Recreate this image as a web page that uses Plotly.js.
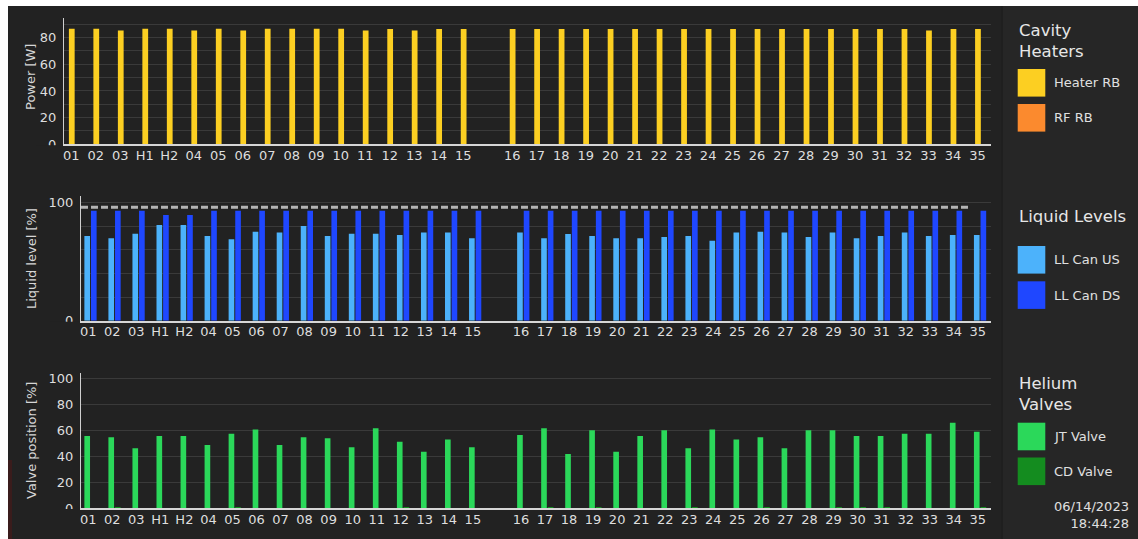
<!DOCTYPE html>
<html>
<head>
<meta charset="utf-8">
<script src="https://cdn.plot.ly/plotly-3.0.1.min.js"></script>
<style>
  html, body { margin: 0; padding: 0; background: #222222; }
  #chart { width: 1138px; height: 539px; }
</style>
</head>
<body>
<div id="chart"></div>
<script>
// ---------------- DATA ----------------
const CAVITIES = ['01','02','03','H1','H2','04','05','06','07','08','09','10','11','12','13','14','15',
                  '16','17','18','19','20','21','22','23','24','25','26','27','28','29','30','31','32','33','34','35'];
const GAP_AFTER = '15';

// Cavity heaters [W]
const HEATER_RB = [86.6,86.6,85.3,86.6,86.6,85.3,86.6,85.3,86.6,86.6,86.6,86.6,85.3,86.4,85.3,86.4,86.4,
                   86.4,86.4,86.4,86.4,86.4,86.4,86.4,86.4,86.4,86.4,86.4,86.4,86.4,86.4,86.4,86.4,86.4,85.3,86.4,86.4];
const RF_RB     = [0,0,0,0,0,0,0,0,0,0,0,0,0,0,0,0,0,
                   0,0,0,0,0,0,0,0,0,0,0,0,0,0,0,0,0,0,0,0];

// Liquid levels [%]
const LL_CAN_US = [71.8,69.8,73.7,81.1,81.1,71.8,69.0,75.4,74.6,80.3,71.8,73.7,73.7,72.6,74.6,74.6,69.8,
                   74.6,69.8,73.4,71.8,69.8,69.8,70.8,71.8,67.8,74.6,75.4,74.6,70.8,74.6,69.8,71.8,74.6,71.8,72.6,72.6];
const LL_CAN_DS = [93.2,93.2,93.2,89.6,89.6,93.2,93.2,93.2,93.2,93.2,93.2,93.2,93.2,93.2,93.2,93.2,93.2,
                   93.2,93.2,93.2,93.2,93.2,93.2,93.2,93.2,93.2,93.2,93.2,93.2,93.2,93.2,93.2,93.2,93.2,93.2,93.2,93.2];
const LL_LIMIT = 96;

// Helium valves [%]
const JT_VALVE = [55.6,54.6,46.1,55.6,55.6,48.6,57.4,60.7,48.6,54.6,53.8,46.9,61.5,51.2,43.5,53.0,46.9,
                  56.4,61.5,41.7,60.0,43.5,55.6,60.0,46.1,60.7,53.0,54.6,46.1,60.0,60.0,55.6,55.6,57.4,57.4,65.9,58.9];
const CD_VALVE = [0,0.8,0,0,0,0,0.8,0,0,0,0,0,0,0.8,0,0,0,
                  0,0.8,0,0.8,0,0,0,0.8,0,0,0.8,0,0,0.8,0.8,0.8,0,0,0,0.8];

// Axis ticks
const P1_TICKVALS = [0,10,20,30,40,50,60,70,80,90];
const P1_TICKTEXT = ['0','','20','','40','','60','','80',''];
const P2_TICKVALS = [0,20,40,60,80,100];
const P2_TICKTEXT = ['0','','','','','100'];
const P3_TICKVALS = [0,20,40,60,80,100];
const P3_TICKTEXT = ['0','20','40','60','80','100'];

const TIMESTAMP = ['06/14/2023', '18:44:28'];

// ---------------- STYLE ----------------
const W = 1138, H = 539;
const px = x => x / W;
const py = y => 1 - y / H;
const FONT = 'DejaVu Sans, Verdana, sans-serif';
const BG = '#222222';
const GRID = '#3a3a3a';
const TXT = '#dedede';

const COLORS = {
  heater: '#fccf22', rf: '#fb8a2e',
  us: '#4cb2fb', ds: '#1f47ff',
  jt: '#2bd85a', cd: '#148c1f'
};

// positions on a linear axis, with one empty slot after GAP_AFTER
const POS = [];
(function(){ let shift = 0; CAVITIES.forEach((c, i) => { POS.push(i + shift); if (c === GAP_AFTER) shift = 1; }); })();

const BW = 0.235;
function bar(name, y, color, xa, ya, offset) {
  return { type: 'bar', name: name, x: POS, y: y, xaxis: xa, yaxis: ya,
           width: BW, offset: offset, marker: { color: color, line: { width: 0 } },
           hoverinfo: 'skip', showlegend: false };
}

const data = [
  bar('Heater RB', HEATER_RB, COLORS.heater, 'x', 'y', -0.10),
  bar('RF RB', RF_RB, COLORS.rf, 'x', 'y', 0.14),
  bar('LL Can US', LL_CAN_US, COLORS.us, 'x2', 'y2', -0.16),
  bar('LL Can DS', LL_CAN_DS, COLORS.ds, 'x2', 'y2', 0.115),
  bar('JT Valve', JT_VALVE, COLORS.jt, 'x3', 'y3', -0.16),
  bar('CD Valve', CD_VALVE, COLORS.cd, 'x3', 'y3', 0.115)
];

const XR = [-0.3, 37.55];
function xaxis(domL, anchor) {
  return { domain: [px(domL), px(991)], anchor: anchor, range: XR, tickmode: 'array',
           tickvals: POS, ticktext: CAVITIES, showgrid: false, zeroline: false,
           showline: true, linecolor: '#d6d6d6', linewidth: 2, ticks: '',
           ticklabelstandoff: -2,
           tickfont: { family: FONT, size: 13, color: TXT }, fixedrange: true };
}
function yaxis(top, bottom, range, tv, tt, anchor) {
  return { domain: [py(bottom), py(top)], anchor: anchor, range: range, tickmode: 'array',
           tickvals: tv, ticktext: tt, showgrid: true, gridcolor: GRID, gridwidth: 1,
           zeroline: false, showline: true, linecolor: '#cfcfcf', linewidth: 1, ticks: '',
           ticklabelstandoff: 4,
           tickfont: { family: FONT, size: 13, color: TXT }, fixedrange: true };
}

const shapes = [
  // screenshot frame / legend column
  { type: 'rect', xref: 'paper', yref: 'paper', layer: 'below', x0: 0, x1: 1, y0: py(6), y1: 1, fillcolor: '#ffffff', line: { width: 0 } },
  { type: 'rect', xref: 'paper', yref: 'paper', layer: 'below', x0: 0, x1: px(8), y0: 0, y1: 1, fillcolor: '#ffffff', line: { width: 0 } },
  { type: 'rect', xref: 'paper', yref: 'paper', layer: 'below', x0: px(8), x1: px(12), y0: 0, y1: py(460), fillcolor: '#3a1c1c', line: { width: 0 } },
  { type: 'rect', xref: 'paper', yref: 'paper', layer: 'below', x0: px(1003), x1: 1, y0: 0, y1: py(6), fillcolor: '#262626', line: { width: 0 } },
  { type: 'rect', xref: 'paper', yref: 'paper', layer: 'below', x0: px(1001), x1: px(1003), y0: 0, y1: py(6), fillcolor: '#1f1f1f', line: { width: 0 } },
  // masks over the lower half of the "0" tick labels
  { type: 'rect', xref: 'paper', yref: 'paper', layer: 'above', x0: px(36), x1: px(62.5), y0: py(151), y1: py(145.2), fillcolor: BG, line: { width: 0 } },
  { type: 'rect', xref: 'paper', yref: 'paper', layer: 'above', x0: px(50), x1: px(79.5), y0: py(328), y1: py(321.7), fillcolor: BG, line: { width: 0 } },
  { type: 'rect', xref: 'paper', yref: 'paper', layer: 'above', x0: px(50), x1: px(79.5), y0: py(515), y1: py(509), fillcolor: BG, line: { width: 0 } },
  // liquid level limit
  { type: 'line', xref: 'x2 domain', yref: 'y2', layer: 'above', x0: 0, x1: 0.975, y0: LL_LIMIT, y1: LL_LIMIT,
    line: { color: '#b4b4b4', width: 3, dash: '7px,3px' } }
];

const annotations = [];
function txt(text, x, y, size, color, xanchor, extra) {
  annotations.push(Object.assign({ text: text, xref: 'paper', yref: 'paper', x: px(x), y: py(y),
    xanchor: xanchor || 'left', yanchor: 'middle', showarrow: false,
    font: { family: FONT, size: size, color: color } }, extra || {}));
}

// custom legends (big square swatches)
const LEGENDS = [
  { title: 'Cavity<br>Heaters', titleY: 40.5, names: ['Heater RB', 'RF RB'], colors: [COLORS.heater, COLORS.rf], top: [69, 104] },
  { title: 'Liquid Levels', titleY: 216.7, names: ['LL Can US', 'LL Can DS'], colors: [COLORS.us, COLORS.ds], top: [246, 281.3] },
  { title: 'Helium<br>Valves', titleY: 393.8, names: ['JT Valve', 'CD Valve'], colors: [COLORS.jt, COLORS.cd], top: [422.7, 457.5] }
];
const SW = 27.6;
LEGENDS.forEach(lg => {
  txt(lg.title, 1016.5, lg.titleY, 16.5, '#e6e6e6', 'left', { align: 'left' });
  lg.names.forEach((n, i) => {
    shapes.push({ type: 'rect', xref: 'paper', yref: 'paper', layer: 'above',
      x0: px(1017.7), x1: px(1017.7 + SW), y0: py(lg.top[i] + SW), y1: py(lg.top[i]),
      fillcolor: lg.colors[i], line: { width: 0 } });
    txt(n, 1051.5, lg.top[i] + SW / 2, 13, '#e0e0e0', 'left');
  });
});

// axis titles
txt('Power [W]', 31, 77, 13, '#d6d6d6', 'center', { textangle: -90 });
txt('Liquid level [%]', 31, 259, 13, '#d6d6d6', 'center', { textangle: -90 });
txt('Valve position [%]', 31, 441, 13, '#d6d6d6', 'center', { textangle: -90 });

// timestamp
txt(TIMESTAMP.join('<br>'), 1131, 515.3, 13, '#e0e0e0', 'right', { align: 'right' });

const layout = {
  width: W, height: H,
  margin: { l: 0, r: 0, t: 0, b: 0, pad: 0 },
  paper_bgcolor: BG, plot_bgcolor: 'rgba(0,0,0,0)',
  font: { family: FONT, size: 13, color: TXT },
  showlegend: false,
  barmode: 'overlay',
  xaxis: xaxis(64, 'y'),
  yaxis: yaxis(18.3, 144.3, [0, 94.5], P1_TICKVALS, P1_TICKTEXT, 'x'),
  xaxis2: xaxis(81, 'y2'),
  yaxis2: yaxis(196, 320.7, [0, 105.6], P2_TICKVALS, P2_TICKTEXT, 'x2'),
  xaxis3: xaxis(81, 'y3'),
  yaxis3: yaxis(372.7, 508, [0, 104.5], P3_TICKVALS, P3_TICKTEXT, 'x3'),
  shapes: shapes,
  annotations: annotations
};

Plotly.newPlot('chart', data, layout, { staticPlot: true, displayModeBar: false });
</script>
</body>
</html>
